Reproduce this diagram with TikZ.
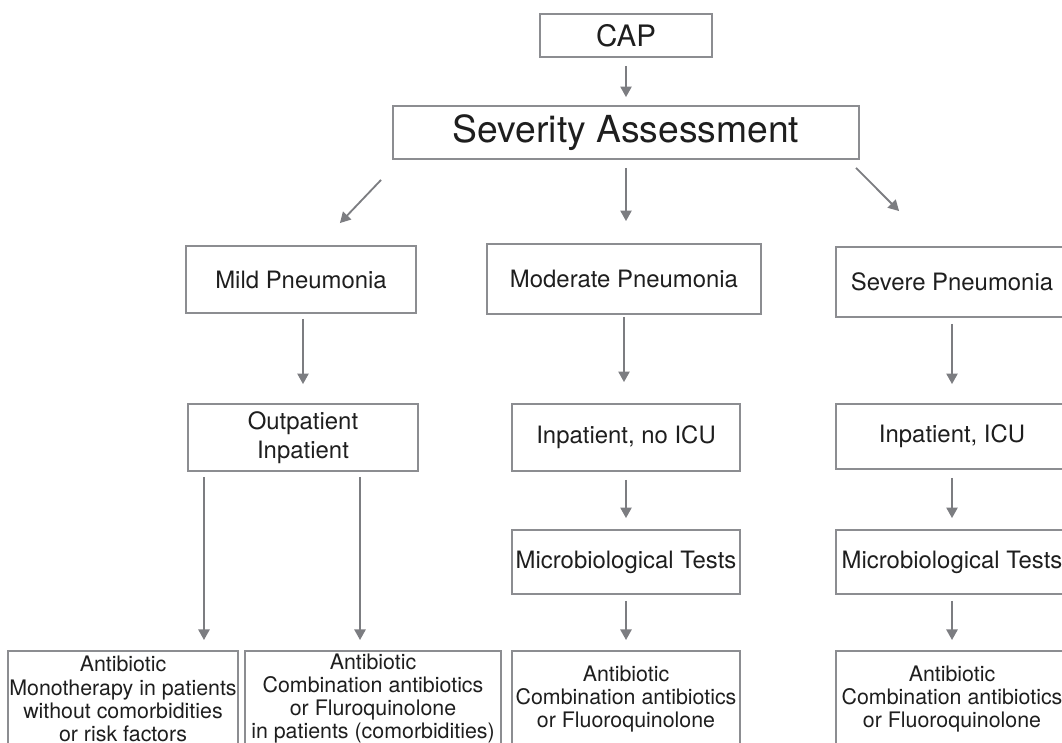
\documentclass[tikz,border=0pt]{standalone}
\usepackage{fontspec}
\setmainfont{TeX Gyre Heros}
\usepackage{tikz}
\usetikzlibrary{arrows.meta,positioning,calc}
\definecolor{linegray}{RGB}{124,125,129}
\definecolor{boxgray}{RGB}{140,141,145}
\definecolor{inkgray}{RGB}{30,30,30}
\tikzstyle{box} = [draw=boxgray,line width=1.3pt,inner sep=0pt,align=center,text=inkgray]
\tikzstyle{arr} = [draw=linegray,line width=1.3pt,-{Triangle[length=7.5pt,width=8pt]}]
\tikzstyle{midtext} = [font=\fontsize{17}{21}\selectfont]
\tikzstyle{lowtext} = [font=\fontsize{15.2}{16.4}\selectfont]
\tikzset{>=latex}

\begin{document}
\begin{tikzpicture}[x=0.025cm,y=-0.025cm]
    \useasboundingbox (0,0) rectangle (1062,742);

    % top of the chart
    \node [box,minimum width=4.3cm,minimum height=1.075cm,font=\fontsize{21}{25}\selectfont] (cap) at (626,35.5) {CAP};
    \node [box,minimum width=11.65cm,minimum height=1.325cm,font=\fontsize{26.5}{31}\selectfont] (sev) at (626,132.5) {Severity Assessment};

    % three severity classes
    \node [box,midtext,minimum width=5.75cm,minimum height=1.675cm] (mild) at (301,279.5) {Mild Pneumonia};
    \node [box,midtext,minimum width=6.85cm,minimum height=1.75cm] (moderate) at (624,279) {Moderate Pneumonia};
    \node [box,midtext,minimum width=5.8cm,minimum height=1.75cm] (severe) at (952,282) {Severe Pneumonia};

    % setting of care
    \node [box,midtext,minimum width=5.75cm,minimum height=1.675cm] (outin) at (303,437.5) {Outpatient\\Inpatient};
    \node [box,midtext,minimum width=5.7cm,minimum height=1.675cm] (noicu) at (626,437.5) {Inpatient, no ICU};
    \node [box,midtext,minimum width=5.8cm,minimum height=1.625cm] (icu) at (952,436.5) {Inpatient, ICU};

    \node [box,midtext,minimum width=5.7cm,minimum height=1.6cm] (microA) at (626,562) {Microbiological Tests};
    \node [box,midtext,minimum width=5.8cm,minimum height=1.6cm] (microB) at (952,562) {Microbiological Tests};

    % antibiotic boxes, cut by the page edge
    \node [box,lowtext,anchor=north,minimum width=5.75cm,minimum height=2.4cm] (abA) at (123,650) {Antibiotic\\Monotherapy in patients\\without comorbidities\\or risk factors};
    \node [box,lowtext,anchor=north,minimum width=6.4cm,minimum height=2.4cm] (abB) at (373,650) {Antibiotic\\Combination antibiotics\\or Fluroquinolone\\in patients (comorbidities)};
    \node [box,lowtext,anchor=north,minimum width=5.7cm,minimum height=2.4cm] (abC) at (626,650) {Antibiotic\\Combination antibiotics\\or Fluoroquinolone};
    \node [box,lowtext,anchor=north,minimum width=5.8cm,minimum height=2.4cm] (abD) at (952,650) {Antibiotic\\Combination antibiotics\\or Fluoroquinolone};

    % connectors
    \draw [arr,shorten <=0.2cm,shorten >=0.2cm] (cap.south) -- (sev.north);
    \draw [arr,shorten <=0.2cm,shorten >=0.55cm] (sev.south) -- (sev.south |- moderate.north);

    \coordinate (ls) at ([xshift=-0.275cm,yshift=-0.5cm]sev.south west);
    \coordinate (le) at ([xshift=-1.925cm,yshift=0.55cm]mild.north east);
    \draw [arr] (ls) -- (le);
    \coordinate (rs) at ([xshift=-0.1cm,yshift=-0.2cm]sev.south east);
    \coordinate (re) at ([xshift=1.6cm,yshift=0.875cm]severe.north west);
    \draw [arr] (rs) -- (re);

    \draw [arr,shorten <=0.125cm,shorten >=0.475cm] (mild.south -| outin.north) -- (outin.north);
    \draw [arr,shorten <=0.05cm,shorten >=0.525cm] (moderate.south) -- (moderate.south |- noicu.north);
    \draw [arr,shorten <=0.15cm,shorten >=0.475cm] (severe.south) -- (icu.north);

    \draw [arr,shorten <=0.2cm,shorten >=0.275cm] (noicu.south) -- (microA.north);
    \draw [arr,shorten <=0.2cm,shorten >=0.275cm] (icu.south) -- (microB.north);
    \draw [arr,shorten <=0.15cm,shorten >=0.25cm] (microA.south) -- (abC.north);
    \draw [arr,shorten <=0.15cm,shorten >=0.25cm] (microB.south) -- (abD.north);

    \coordinate (oa) at ([xshift=-2.475cm]outin.south);
    \coordinate (ob) at ([xshift=1.425cm]outin.south);
    \draw [arr,shorten <=0.125cm,shorten >=0.25cm] (oa) -- (oa |- abA.north);
    \draw [arr,shorten <=0.125cm,shorten >=0.25cm] (ob) -- (ob |- abB.north);
\end{tikzpicture}
\end{document}
